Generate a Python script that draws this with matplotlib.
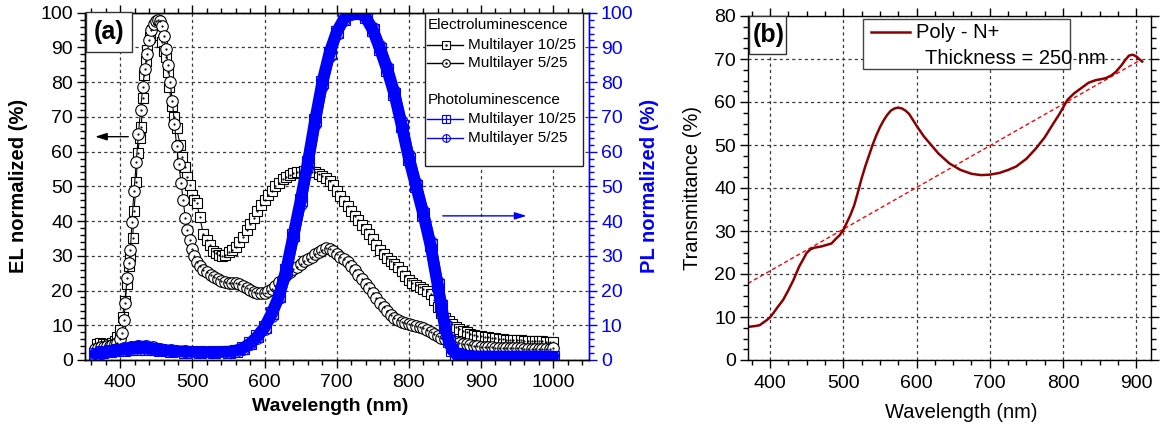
import matplotlib
matplotlib.use('Agg')
import matplotlib.pyplot as plt
from matplotlib.lines import Line2D
from matplotlib.patches import Rectangle
from matplotlib.ticker import MultipleLocator

plt.rcParams['font.family'] = ['Liberation Sans', 'DejaVu Sans']

# ---------------- data: panel (a) ----------------
el10_wl = [368, 372, 376, 380, 384, 388, 392, 396, 400, 403, 406, 409, 412, 414, 417, 419,
           422, 424, 427, 429, 431, 433, 435, 437, 441, 444, 447, 449, 452, 455, 458, 461,
           463, 466, 468, 471, 474, 478, 483, 485, 490, 493, 497, 499, 502, 506, 510, 515,
           520, 524, 528, 533, 537, 541,
           545, 550, 555, 560, 565, 570, 575, 580, 585, 590, 595, 600, 605, 610, 615, 620,
           625, 630, 635, 640, 645, 650, 655, 660, 665, 670, 675, 680, 685, 690, 695, 700,
           705, 710, 715, 720, 725, 730, 735, 740, 745, 750, 755, 760, 765, 770, 775, 780,
           785, 790, 795, 800, 805, 810, 815, 820, 825, 830, 835, 840, 845, 850, 855, 860,
           865, 870, 875, 880, 885, 890, 895, 900, 905, 910, 915, 920, 925, 930, 935, 940,
           945, 950, 955, 960, 965, 970, 975, 980, 985, 990, 995, 1000]
el10 = [4.6, 4.8, 4.6, 4.5, 4.6, 5.0, 5.5, 6.5, 8.5, 12.5, 17.0, 22.0, 27.0, 30.0, 35.0, 43.0,
        51.3, 59.5, 64.0, 67.2, 75.3, 82.0, 86.0, 89.3, 93.0, 95.0, 96.0, 96.5, 96.0, 93.5, 91.5, 89.0,
        87.3, 83.0, 78.7, 73.0, 70.0, 66.7, 61.9, 58.5, 55.7, 52.8, 50.4, 47.5, 46.0, 45.1, 41.3, 36.3,
        34.5, 33.0, 31.5, 30.7, 30.2, 30.0,
        30.3, 31.0, 31.8, 32.6, 34.0, 35.5, 37.3, 39.2, 41.0, 42.8, 44.5, 46.0, 47.4, 48.8, 50.0, 51.0,
        52.0, 52.8, 53.3, 53.7, 54.0, 54.2, 54.3, 54.3, 54.2, 54.0, 53.6, 53.0, 52.4, 51.5, 50.3, 48.8,
        47.3, 45.8, 44.3, 42.9, 41.5, 40.2, 38.9, 37.6, 36.2, 34.7, 33.2, 31.8, 30.6, 29.5, 28.5, 27.6,
        26.7, 25.5, 24.2, 23.0, 22.2, 21.6, 21.0, 20.5, 20.0, 19.0, 17.2, 15.2, 13.6, 12.2, 11.1, 10.3,
        9.5, 8.9, 8.4, 8.0, 7.6, 7.3, 7.0, 6.8, 6.6, 6.5, 6.3, 6.2, 6.1, 6.0, 5.9, 5.9,
        5.8, 5.8, 5.7, 5.6, 5.6, 5.5, 5.5, 5.4, 5.4, 5.3, 5.3, 5.3]

el5_wl = [365, 369, 373, 377, 381, 385, 389, 393, 396, 399, 402, 405, 407, 409, 412, 414,
          416, 419, 422, 425, 428, 431, 434, 437, 440, 443, 446, 449, 452, 455, 458, 460,
          463, 466, 469, 472, 475, 478, 481, 484, 487, 490, 493, 496, 499, 502, 506, 510,
          515, 520, 525, 530, 535, 540,
          545, 550, 555, 560, 565, 570, 575, 580, 585, 590, 595, 600, 605, 610, 615, 620,
          625, 630, 635, 640, 645, 650, 655, 660, 665, 670, 675, 680, 685, 690, 695, 700,
          705, 710, 715, 720, 725, 730, 735, 740, 745, 750, 755, 760, 765, 770, 775, 780,
          785, 790, 795, 800, 805, 810, 815, 820, 825, 830, 835, 840, 845, 850, 855, 860,
          865, 870, 875, 880, 885, 890, 895, 900, 905, 910, 915, 920, 925, 930, 935, 940,
          945, 950, 955, 960, 965, 970, 975, 980, 985, 990, 995, 1000]
el5 = [3.2, 3.5, 3.8, 3.8, 3.9, 4.0, 4.2, 4.5, 5.0, 6.0, 7.8, 11.5, 16.5, 23.6, 28.0, 31.7,
       39.8, 48.7, 57.0, 65.0, 72.0, 78.6, 83.8, 88.0, 92.0, 95.0, 96.7, 97.6, 97.8, 97.5, 96.3, 93.3,
       89.5, 85.0, 80.0, 74.7, 68.0, 61.6, 56.4, 51.0, 46.0, 41.0, 37.4, 34.5, 32.0, 30.0, 28.3, 27.0,
       26.0, 25.2, 24.4, 23.8, 23.2, 22.7,
       22.4, 22.2, 22.1, 22.2, 22.0, 21.4, 20.7, 20.1, 19.7, 19.4, 19.3, 19.4, 19.8, 20.5, 21.4, 22.4,
       23.4, 24.4, 25.3, 26.1, 26.9, 27.7, 28.4, 29.1, 29.8, 30.5, 31.2, 31.8, 32.2, 32.0, 31.3, 30.6,
       29.8, 29.0, 28.1, 27.0, 25.8, 24.5, 23.2, 22.0, 20.7, 19.3, 17.9, 16.5, 15.2, 14.0, 13.0, 12.2,
       11.5, 11.0, 10.6, 10.3, 10.0, 9.8, 9.5, 9.2, 8.6, 8.0, 7.4, 6.9, 6.4, 6.0, 5.7, 5.4,
       5.1, 4.9, 4.7, 4.5, 4.3, 4.1, 3.9, 3.8, 3.7, 3.6, 3.6, 3.5, 3.5, 3.4, 3.4, 3.4,
       3.4, 3.4, 3.4, 3.3, 3.3, 3.3, 3.3, 3.3, 3.3, 3.3, 3.3, 3.4]

pl_wl = [365, 375, 385, 395, 405, 415, 425, 435, 445, 455, 470, 490, 510, 530, 550, 560,
         570, 580, 590, 600, 610, 620, 630, 640, 650, 660, 670, 680, 690, 700, 710, 720,
         730, 740, 750, 760, 770, 780, 790, 800, 810, 820, 830, 840, 845, 850, 855, 860,
         865, 870, 880, 900, 925, 950, 975, 1000]
pl10 = [1.8, 2.2, 2.5, 2.8, 3.0, 3.2, 3.3, 3.3, 3.1, 2.9, 2.6, 2.4, 2.3, 2.3, 2.4, 2.7,
        3.4, 4.8, 6.8, 9.5, 13.5, 18.5, 26.0, 36.0, 46.0, 57.0, 69.0, 80.0, 88.5, 94.5, 98.2, 99.8,
        100.0, 98.7, 95.0, 89.5, 83.5, 76.5, 67.5, 58.0, 50.0, 42.0, 33.0, 21.5, 15.5, 9.5, 5.5, 3.0,
        1.8, 1.3, 1.1, 1.0, 1.0, 1.0, 1.0, 1.0]
pl5 = [1.5, 2.0, 2.6, 3.0, 3.4, 3.8, 4.1, 4.0, 3.6, 3.2, 2.8, 2.5, 2.3, 2.2, 2.3, 2.6,
       3.2, 4.5, 6.4, 9.0, 12.8, 17.8, 25.0, 35.0, 45.0, 56.0, 68.0, 79.0, 87.5, 94.0, 98.0, 99.7,
       100.0, 99.0, 95.5, 90.3, 84.5, 77.5, 68.5, 59.0, 51.0, 43.0, 34.0, 22.5, 16.5, 10.3, 6.0, 3.3,
       1.9, 1.3, 1.1, 1.0, 1.0, 1.0, 1.0, 1.0]

# ---------------- data: panel (b) ----------------
tr_wl = [370, 375, 380, 386, 390, 395, 400, 405, 410, 418, 425, 432, 440, 445, 450, 455,
         460, 470, 478, 484, 490, 495, 500, 505, 510, 515, 520, 525, 530, 536, 540, 545,
         550, 555, 560, 565, 570, 575, 580, 585, 590, 600, 610, 622, 630, 645, 660, 675,
         688, 700, 713, 725, 736, 750, 763, 775, 786, 795, 806, 815, 827, 835, 845, 852,
         859, 866, 872, 880, 885, 890, 895, 900, 905, 908]
tr = [7.7, 7.8, 7.9, 8.1, 8.6, 9.2, 9.9, 11.0, 12.2, 14.0, 16.2, 18.6, 21.8, 23.3, 24.9, 25.7,
      26.1, 26.4, 26.8, 27.1, 28.2, 29.0, 30.2, 32.0, 33.8, 36.0, 39.0, 42.2, 45.0, 48.0, 50.0, 52.2,
      54.1, 55.7, 57.0, 58.0, 58.5, 58.7, 58.5, 58.0, 57.2, 54.5, 52.0, 49.6, 48.0, 45.7, 44.2, 43.3,
      43.0, 43.1, 43.5, 44.2, 45.0, 46.8, 49.2, 51.8, 54.8, 57.2, 60.5, 62.0, 63.5, 64.5, 65.1, 65.3,
      65.6, 66.2, 67.0, 68.6, 69.8, 70.8, 71.0, 70.6, 69.8, 69.4]
fit_wl = [370, 906]
fit_tr = [17.8, 69.8]

# ---------------- figure ----------------
W, H = 1171, 430
fig = plt.figure(figsize=(W / 100, H / 100), dpi=100)


def fx(x):
    return x / W


def fy(y):
    return 1 - y / H


ax1 = fig.add_axes([fx(85), fy(360), (588.5 - 85) / W, (360 - 12.7) / H])
ax1b = ax1.twinx()
ax2 = fig.add_axes([fx(748), fy(360), (1151 - 748) / W, (360 - 16) / H])

grid_kw = dict(color='#3a3a3a', lw=0.9, ls=(0, (2.5, 2.5)))

# EL curves
ax1.plot(el10_wl, el10, color='black', lw=0.8, marker='s', ms=7.5, mfc='white',
         mec='black', mew=0.8, zorder=3)
ax1.plot(el10_wl, el10, ls='none', marker='.', ms=1.2, color='black', zorder=3)
ax1.plot(el5_wl, el5, color='black', lw=0.8, marker='o', ms=8.3, mfc='white',
         mec='black', mew=0.8, zorder=4)
ax1.plot(el5_wl, el5, ls='none', marker='.', ms=1.2, color='black', zorder=4)

# PL curves
ax1b.plot(pl_wl, pl10, color='blue', lw=8.5, marker='s', ms=8.5, mfc='none', mec='blue',
          mew=0.8, solid_joinstyle='round', solid_capstyle='round')
ax1b.plot(pl_wl, pl5, color='blue', lw=7.5, marker='o', ms=8.5, mfc='none', mec='blue',
          mew=0.8, solid_joinstyle='round', solid_capstyle='round')

ax1.set_xlim(351, 1049)
ax1.set_ylim(0, 100)
ax1b.set_ylim(0, 100)
ax1.xaxis.set_major_locator(MultipleLocator(100))
ax1.xaxis.set_minor_locator(MultipleLocator(20))
ax1.yaxis.set_major_locator(MultipleLocator(10))
ax1.yaxis.set_minor_locator(MultipleLocator(2))
ax1b.yaxis.set_major_locator(MultipleLocator(10))
ax1b.yaxis.set_minor_locator(MultipleLocator(2))

ax1.tick_params(which='both', direction='out', top=True, right=False, width=1,
                labelsize=14, colors='black')
ax1.tick_params(which='major', length=6)
ax1.tick_params(which='minor', length=3.5)
ax1.tick_params(axis='x', pad=4)
ax1.tick_params(axis='y', pad=2.5)
ax1b.tick_params(axis='y', which='both', direction='out', colors='blue', width=1,
                 labelsize=14, pad=3)
ax1b.tick_params(axis='y', which='major', length=6)
ax1b.tick_params(axis='y', which='minor', length=3.5)
for sp in ax1.spines.values():
    sp.set_linewidth(1.0)
for sp in ax1b.spines.values():
    sp.set_linewidth(1.0)
ax1.spines['right'].set_color('blue')
ax1b.spines['right'].set_color('blue')
ax1.grid(True, which='major', **grid_kw)

ax1.set_xlabel('Wavelength (nm)', fontsize=14, fontweight='bold')
ax1.xaxis.set_label_coords(0.4876, -0.109)
ax1.set_ylabel('EL normalized (%)', fontsize=14.5, fontweight='bold')
ax1.yaxis.set_label_coords(-0.113, 0.5)
ax1b.set_ylabel('PL normalized (%)', fontsize=14.5, fontweight='bold', color='blue')
ax1b.yaxis.set_label_coords(1.102, 0.5)

# arrows
ax1.annotate('', xy=(365, 64.3), xytext=(411, 64.3),
             arrowprops=dict(arrowstyle='-|>,head_length=0.7,head_width=0.22',
                             color='black', lw=1.0, shrinkA=0, shrinkB=0))
ax1b.annotate('', xy=(963, 41.5), xytext=(847, 41.5),
              arrowprops=dict(arrowstyle='-|>,head_length=0.7,head_width=0.22',
                              color='blue', lw=1.0, shrinkA=0, shrinkB=0))

# panel (b)
ax2.plot(fit_wl, fit_tr, color='red', lw=1.0, ls=(0, (3, 2)))
ax2.plot(tr_wl, tr, color='#8b0000', lw=1.8)
ax2.set_xlim(370, 920)
ax2.set_ylim(0, 80)
ax2.xaxis.set_major_locator(MultipleLocator(100))
ax2.xaxis.set_minor_locator(MultipleLocator(25))
ax2.yaxis.set_major_locator(MultipleLocator(10))
ax2.yaxis.set_minor_locator(MultipleLocator(2.5))
ax2.tick_params(which='both', direction='out', top=True, right=True, width=1,
                labelsize=14)
ax2.tick_params(which='major', length=6)
ax2.tick_params(which='minor', length=3.5)
ax2.tick_params(axis='x', pad=5)
ax2.tick_params(axis='y', pad=2.5)
for sp in ax2.spines.values():
    sp.set_linewidth(1.0)
ax2.grid(True, which='major', **grid_kw)
ax2.set_xlabel('Wavelength (nm)', fontsize=14.5)
ax2.xaxis.set_label_coords(0.53, -0.125)
ax2.set_ylabel('Transmittance (%)', fontsize=14.5)
ax2.yaxis.set_label_coords(-0.114, 0.5)

# ---------------- panel tags ----------------
fig.add_artist(Rectangle((fx(86), fy(52)), 46 / W, 40 / H, transform=fig.transFigure,
                         fc='white', ec='#333333', lw=1.0, zorder=5))
fig.text(fx(109), fy(32.5), '(a)', fontsize=18, fontweight='bold', ha='center',
         va='center', zorder=6)
fig.add_artist(Rectangle((fx(749), fy(54)), 37 / W, 38 / H, transform=fig.transFigure,
                         fc='white', ec='#333333', lw=1.0, zorder=5))
fig.text(fx(769), fy(35), '(b)', fontsize=18, fontweight='bold', ha='center',
         va='center', zorder=6)

# ---------------- legend (a) ----------------
fig.add_artist(Rectangle((fx(425), fy(166)), (583 - 425) / W, (166 - 13) / H,
                         transform=fig.transFigure, fc='white', ec='#222222', lw=1.0,
                         zorder=5))
leg_fs = 11
fig.text(fx(428), fy(25), 'Electroluminescence', fontsize=leg_fs, va='center', zorder=6)
fig.text(fx(428), fy(100), 'Photoluminescence', fontsize=leg_fs, va='center', zorder=6)
rows = [(45, 'black', 's', None, 'Multilayer 10/25'),
        (63.3, 'black', 'o', None, 'Multilayer 5/25'),
        (119.3, 'blue', 's', '+', 'Multilayer 10/25'),
        (138.3, 'blue', 'o', '+', 'Multilayer 5/25')]
for y, col, mk, inner, lab in rows:
    fig.add_artist(Line2D([fx(427), fx(463)], [fy(y), fy(y)], transform=fig.transFigure,
                          color=col, lw=1.0, zorder=6))
    fig.add_artist(Line2D([fx(446)], [fy(y)], transform=fig.transFigure, ls='none',
                          marker=mk, ms=5.5, mfc='white', mec=col, mew=0.8, zorder=7))
    if inner is None:
        fig.add_artist(Line2D([fx(446)], [fy(y)], transform=fig.transFigure, ls='none',
                              marker='.', ms=1.5, color=col, zorder=8))
    else:
        fig.add_artist(Line2D([fx(446)], [fy(y)], transform=fig.transFigure, ls='none',
                              marker='+', ms=5.5, mew=0.8, color=col, zorder=8))
    fig.text(fx(468), fy(y), lab, fontsize=leg_fs, va='center', zorder=6)

# ---------------- legend (b) ----------------
fig.add_artist(Rectangle((fx(863), fy(69)), (1070 - 863) / W, (69 - 19) / H,
                         transform=fig.transFigure, fc='white', ec='#444444', lw=1.0,
                         zorder=5))
fig.add_artist(Line2D([fx(871), fx(910)], [fy(32.3), fy(32.3)], transform=fig.transFigure,
                      color='#8b0000', lw=1.8, zorder=6))
fig.text(fx(915.5), fy(32), 'Poly - N+', fontsize=14.5, va='center', zorder=6)
fig.text(fx(925), fy(58.3), 'Thickness = 250 nm', fontsize=14.5, va='center', zorder=6)

fig.savefig('out.png', dpi=100)
